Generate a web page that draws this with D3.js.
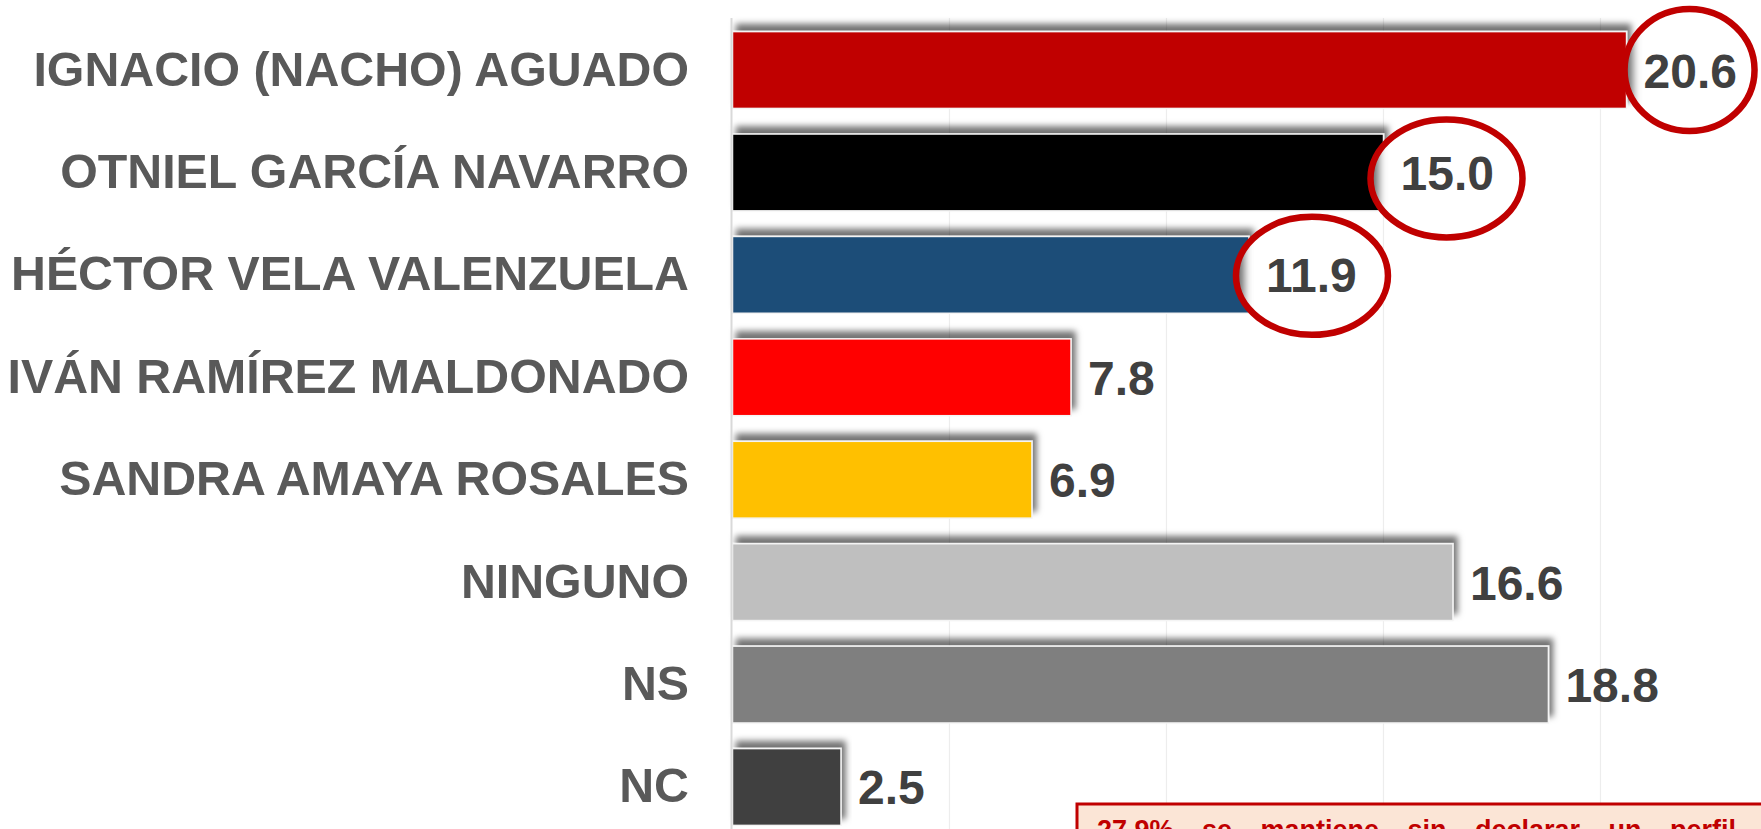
<!DOCTYPE html>
<meta charset="utf-8">
<style>
body { margin: 0; background: #fff; }
svg { display: block; }
.cat { font-family: "Liberation Sans", Arial, sans-serif; font-weight: bold; fill: #595959; }
.val { font-family: "Liberation Sans", Arial, sans-serif; font-weight: bold; fill: #404040; }
.note { font-family: "Liberation Sans", Arial, sans-serif; font-weight: bold; fill: #c00000; }
</style>
<body>
<script src="https://d3js.org/d3.v7.min.js"></script>
<script>

var categories = ["IGNACIO (NACHO) AGUADO", "OTNIEL GARCÍA NAVARRO", "HÉCTOR VELA VALENZUELA",
                  "IVÁN RAMÍREZ MALDONADO", "SANDRA AMAYA ROSALES", "NINGUNO", "NS", "NC"];
var values = [20.6, 15.0, 11.9, 7.8, 6.9, 16.6, 18.8, 2.5];
var barColors = ["#c00000", "#000000", "#1f4e78", "#ff0000", "#ffc000", "#bfbfbf", "#7f7f7f", "#404040"];
var highlighted = ["IGNACIO (NACHO) AGUADO", "OTNIEL GARCÍA NAVARRO", "HÉCTOR VELA VALENZUELA"];
var xTicks = [0, 5, 10, 15, 20, 25];
var noteText = "27.9% se mantiene sin declarar un perfil";

var width = 1761, height = 829;

var svg = d3.select("body").append("svg")
    .attr("width", width)
    .attr("height", height);

var defs = svg.append("defs");

// sombra de las barras (hacia arriba y a la derecha)
var f = defs.append("filter").attr("id", "shadow")
    .attr("x", "-10%").attr("y", "-40%").attr("width", "120%").attr("height", "160%");
f.append("feDropShadow")
    .attr("dx", 4).attr("dy", -7)
    .attr("stdDeviation", 3)
    .attr("flood-color", "#000")
    .attr("flood-opacity", 0.55);

defs.append("filter").attr("id", "blur")
    .attr("x", "-100%").attr("y", "-50%").attr("width", "300%").attr("height", "200%")
  .append("feGaussianBlur").attr("stdDeviation", 4);

var x = d3.scaleLinear()
    .domain([0, 25])
    .range([732.5, 1817.5]);

var y = d3.scaleBand()
    .domain(categories)
    .range([6, 851])
    .padding(0.25);

// cuadricula
svg.append("g")
  .selectAll("line")
  .data(xTicks.slice(1))
  .enter().append("line")
    .attr("x1", function(d) { return x(d); })
    .attr("x2", function(d) { return x(d); })
    .attr("y1", 18)
    .attr("y2", height)
    .attr("stroke", "#ededed")
    .attr("stroke-width", 1.2);

// barras
svg.append("g")
  .selectAll("rect")
  .data(categories)
  .enter().append("rect")
    .attr("x", x(0))
    .attr("y", function(d) { return y(d); })
    .attr("width", function(d, i) { return x(values[i]) - x(0); })
    .attr("height", y.bandwidth())
    .attr("fill", function(d, i) { return barColors[i]; })
    .attr("stroke", "#f4f4f4")
    .attr("stroke-width", 1.5)
    .attr("filter", "url(#shadow)");

// eje vertical
svg.append("line")
    .attr("x1", x(0) - 1).attr("x2", x(0) - 1)
    .attr("y1", 18).attr("y2", height)
    .attr("stroke", "#d9d9d9")
    .attr("stroke-width", 2);

// etiquetas de categoria
svg.append("g")
  .selectAll("text")
  .data(categories)
  .enter().append("text")
    .attr("class", "cat")
    .attr("x", 689)
    .attr("y", function(d) { return y(d) + y.bandwidth() / 2 + 15.5; })
    .attr("text-anchor", "end")
    .style("font-size", "48.3px")
    .text(function(d) { return d; });

// circulos rojos de los tres primeros
var circleRx = [65, 76, 76], circleRy = [61, 59, 59], circleDy = [0, 6, 1];
var hl = svg.append("g");
highlighted.forEach(function(name, k) {
  var i = categories.indexOf(name);
  var cx = x(values[i]) + 63,
      cy = y(name) + y.bandwidth() / 2 + circleDy[k],
      rx = circleRx[k], ry = circleRy[k];
  defs.append("clipPath").attr("id", "clip" + k)
    .append("ellipse").attr("cx", cx).attr("cy", cy).attr("rx", rx).attr("ry", ry);
  hl.append("ellipse")
      .attr("cx", cx).attr("cy", cy).attr("rx", rx).attr("ry", ry)
      .attr("fill", "#fff");
  hl.append("g").attr("clip-path", "url(#clip" + k + ")")
    .append("rect")
      .attr("x", cx - rx - 8)
      .attr("y", y(name) - 4)
      .attr("width", 16)
      .attr("height", y.bandwidth() + 4)
      .attr("fill", "#666")
      .attr("filter", "url(#blur)");
  hl.append("ellipse")
      .attr("cx", cx).attr("cy", cy).attr("rx", rx).attr("ry", ry)
      .attr("fill", "none")
      .attr("stroke", "#c00000")
      .attr("stroke-width", 6.5);
});

// valores
svg.append("g")
  .selectAll("text")
  .data(categories)
  .enter().append("text")
    .attr("class", "val")
    .attr("x", function(d, i) { return x(values[i]) + 17; })
    .attr("y", function(d) { return y(d) + y.bandwidth() / 2 + 17.5; })
    .style("font-size", "48px")
    .text(function(d, i) { return values[i].toFixed(1); });

// recuadro de nota
svg.append("rect")
    .attr("x", 1077)
    .attr("y", 804)
    .attr("width", 760)
    .attr("height", 90)
    .attr("fill", "#fbe5d6")
    .attr("stroke", "#c00000")
    .attr("stroke-width", 3);

// texto justificado
var words = noteText.split(" ");
var note = svg.append("g");
var wt = note.selectAll("text")
  .data(words)
  .enter().append("text")
    .attr("class", "note")
    .attr("y", 839)
    .style("font-size", "27px")
    .text(function(d) { return d; });
var lens = [];
wt.each(function() { lens.push(this.getComputedTextLength()); });
var left = 1097, right = 1736;
var gap = (right - left - d3.sum(lens)) / (words.length - 1);
var pos = left;
wt.attr("x", function(d, i) { var p = pos; pos += lens[i] + gap; return p; });

</script>
</body>
